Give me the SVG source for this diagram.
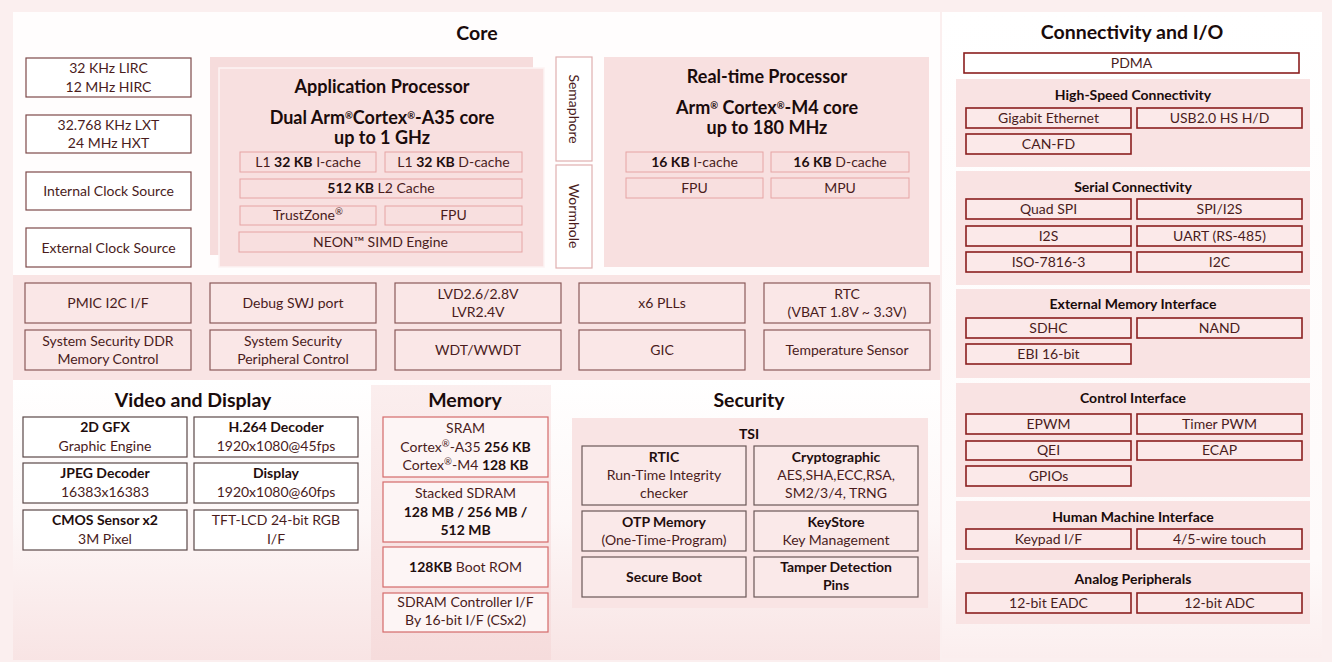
<svg xmlns="http://www.w3.org/2000/svg" width="1332" height="662" viewBox="0 0 1332 662">
<defs>
<linearGradient id="lowG" x1="0" y1="0" x2="0" y2="1">
<stop offset="0" stop-color="#ffffff"/><stop offset="0.5" stop-color="#fdf7f7"/><stop offset="1" stop-color="#f8e4e4"/>
</linearGradient>
<linearGradient id="memG" x1="0" y1="0" x2="0" y2="1">
<stop offset="0" stop-color="#fbeeee"/><stop offset="1" stop-color="#f6dcdc"/>
</linearGradient>
<linearGradient id="conG" x1="0" y1="0" x2="0" y2="1">
<stop offset="0" stop-color="#ffffff"/><stop offset="0.85" stop-color="#fefafa"/><stop offset="1" stop-color="#fbeeee"/>
</linearGradient>
<style>
text{font-family:Lato,"Liberation Sans",sans-serif;}
.h1{font-size:19.5px;font-weight:bold;fill:#1a0b0b;text-anchor:middle}
.h2{font-size:18px;font-weight:bold;fill:#1a0b0b;text-anchor:middle}
.h3{font-size:14px;font-weight:bold;fill:#1a0b0b;text-anchor:middle}
.b{font-size:14px;fill:#4a1c1c;text-anchor:middle}
.bb{font-weight:bold;fill:#1f0e0e}
.sup{font-size:9.5px}
.clk{fill:#fff;stroke:#7e4a4a;stroke-width:1.2}
.ap{fill:#f8dfdf;stroke:#e6a4a4;stroke-width:1}
.sem{fill:#fff;stroke:#e0b0b0;stroke-width:1.2}
.bnd{fill:#fae7e7;stroke:#8a5a5a;stroke-width:1.2}
.vid{fill:#fff;stroke:#5a4848;stroke-width:1.2}
.mem{fill:#fdf5f5;stroke:#d46a6a;stroke-width:1.2}
.sec{fill:#fae9e9;stroke:#6a5858;stroke-width:1.2}
.con{fill:#fbe9e9;stroke:#8b1f1f;stroke-width:1.6}
.pnl{fill:#f9e3e3}
</style>
</defs>

<!-- background -->
<rect x="0" y="0" width="1332" height="662" fill="#fbefef"/>
<rect x="13" y="12" width="927" height="263" fill="#fffdfd"/>
<rect x="13" y="275" width="927" height="105" fill="#f9e4e4"/>
<rect x="13" y="380" width="927" height="280" fill="url(#lowG)"/>
<rect x="371" y="385" width="180" height="275" fill="url(#memG)"/>
<rect x="942" y="12" width="380" height="646" fill="url(#conG)"/>

<!-- section titles -->
<g id="titles">
<text class="h1" x="477" y="40">Core</text>
<text class="h1" x="193" y="407">Video and Display</text>
<text class="h1" x="465" y="407">Memory</text>
<text class="h1" x="749" y="407">Security</text>
<text class="h1" x="1132" y="39">Connectivity and I/O</text>
</g>

<!-- clock sources -->
<g id="lirc"><rect class="clk" x="26" y="58" width="165" height="39"/>
<text class="b" x="108.5" y="73">32 KHz LIRC</text><text class="b" x="108.5" y="92">12 MHz HIRC</text></g>
<g id="lxt"><rect class="clk" x="26" y="115" width="165" height="38"/>
<text class="b" x="108.5" y="130">32.768 KHz LXT</text><text class="b" x="108.5" y="148">24 MHz HXT</text></g>
<g id="intclk"><rect class="clk" x="26" y="172" width="165" height="38"/>
<text class="b" x="108.5" y="196">Internal Clock Source</text></g>
<g id="extclk"><rect class="clk" x="26" y="228" width="165" height="39"/>
<text class="b" x="108.5" y="253">External Clock Source</text></g>

<!-- application processor -->
<g id="app">
<rect x="210" y="57" width="323" height="198" fill="#f6dcdc"/>
<rect x="219" y="68" width="325" height="199" fill="#f8e0e0" stroke="#fdf3f3" stroke-width="1.5"/>
<text class="h2" x="382" y="93">Application Processor</text>
<text class="h2" x="382" y="124">Dual Arm<tspan class="sup" baseline-shift="super">®</tspan>Cortex<tspan class="sup" baseline-shift="super">®</tspan>-A35 core</text>
<text class="h2" x="382" y="144">up to 1 GHz</text>
<rect class="ap" x="240" y="152" width="136" height="20"/>
<text class="b" x="308" y="167">L1 <tspan class="bb">32 KB</tspan> I-cache</text>
<rect class="ap" x="385" y="152" width="137" height="20"/>
<text class="b" x="453.5" y="167">L1 <tspan class="bb">32 KB</tspan> D-cache</text>
<rect class="ap" x="240" y="179" width="282" height="19"/>
<text class="b" x="381" y="193"><tspan class="bb">512 KB</tspan> L2 Cache</text>
<rect class="ap" x="240" y="206" width="136" height="19"/>
<text class="b" x="308" y="220">TrustZone<tspan class="sup" baseline-shift="super">®</tspan></text>
<rect class="ap" x="385" y="206" width="137" height="19"/>
<text class="b" x="453.5" y="220">FPU</text>
<rect class="ap" x="239" y="232" width="283" height="20"/>
<text class="b" x="380.5" y="247">NEON™ SIMD Engine</text>
</g>

<g id="semaphore"><rect class="sem" x="556" y="57" width="36" height="104"/>
<text class="b" transform="translate(569,109) rotate(90)" x="0" y="0">Semaphore</text></g>
<g id="wormhole"><rect class="sem" x="556" y="165" width="36" height="103"/>
<text class="b" transform="translate(569,216) rotate(90)" x="0" y="0">Wormhole</text></g>

<!-- real-time processor -->
<g id="rtp">
<rect x="604" y="57" width="325" height="210" fill="#f8e0e0"/>
<text class="h2" x="767" y="83">Real-time Processor</text>
<text class="h2" x="767" y="114">Arm<tspan class="sup" baseline-shift="super">®</tspan> Cortex<tspan class="sup" baseline-shift="super">®</tspan>-M4 core</text>
<text class="h2" x="767" y="134">up to 180 MHz</text>
<rect class="ap" x="626" y="152" width="137" height="20"/>
<text class="b" x="694.5" y="167"><tspan class="bb">16 KB</tspan> I-cache</text>
<rect class="ap" x="771" y="152" width="138" height="20"/>
<text class="b" x="840" y="167"><tspan class="bb">16 KB</tspan> D-cache</text>
<rect class="ap" x="626" y="178" width="137" height="20"/>
<text class="b" x="694.5" y="193">FPU</text>
<rect class="ap" x="771" y="178" width="138" height="20"/>
<text class="b" x="840" y="193">MPU</text>
</g>

<!-- system band -->
<g id="pmic"><rect class="bnd" x="25" y="283" width="166" height="40"/><text class="b" x="108" y="308">PMIC I2C I/F</text></g>
<g id="debug"><rect class="bnd" x="210" y="283" width="166" height="40"/><text class="b" x="293" y="308">Debug SWJ port</text></g>
<g id="lvd"><rect class="bnd" x="395" y="283" width="166" height="40"/><text class="b" x="478" y="299">LVD2.6/2.8V</text><text class="b" x="478" y="317">LVR2.4V</text></g>
<g id="pll"><rect class="bnd" x="579" y="283" width="166" height="40"/><text class="b" x="662" y="308">x6 PLLs</text></g>
<g id="rtc"><rect class="bnd" x="764" y="283" width="166" height="40"/><text class="b" x="847" y="299">RTC</text><text class="b" x="847" y="317">(VBAT 1.8V ~ 3.3V)</text></g>
<g id="ssddr"><rect class="bnd" x="25" y="330" width="166" height="40"/><text class="b" x="108" y="346">System Security DDR</text><text class="b" x="108" y="364">Memory Control</text></g>
<g id="ssper"><rect class="bnd" x="210" y="330" width="166" height="40"/><text class="b" x="293" y="346">System Security</text><text class="b" x="293" y="364">Peripheral Control</text></g>
<g id="wdt"><rect class="bnd" x="395" y="330" width="166" height="40"/><text class="b" x="478" y="355">WDT/WWDT</text></g>
<g id="gic"><rect class="bnd" x="579" y="330" width="166" height="40"/><text class="b" x="662" y="355">GIC</text></g>
<g id="temp"><rect class="bnd" x="764" y="330" width="166" height="40"/><text class="b" x="847" y="355">Temperature Sensor</text></g>

<!-- video and display -->
<g id="gfx"><rect class="vid" x="23" y="417" width="164" height="40"/><text class="b" x="105" y="432"><tspan class="bb">2D GFX</tspan></text><text class="b" x="105" y="451">Graphic Engine</text></g>
<g id="h264"><rect class="vid" x="194" y="417" width="164" height="40"/><text class="b" x="276" y="432"><tspan class="bb">H.264 Decoder</tspan></text><text class="b" x="276" y="451">1920x1080@45fps</text></g>
<g id="jpeg"><rect class="vid" x="23" y="463" width="164" height="40"/><text class="b" x="105" y="478"><tspan class="bb">JPEG Decoder</tspan></text><text class="b" x="105" y="497">16383x16383</text></g>
<g id="display"><rect class="vid" x="194" y="463" width="164" height="40"/><text class="b" x="276" y="478"><tspan class="bb">Display</tspan></text><text class="b" x="276" y="497">1920x1080@60fps</text></g>
<g id="cmos"><rect class="vid" x="23" y="510" width="164" height="40"/><text class="b" x="105" y="525"><tspan class="bb">CMOS Sensor x2</tspan></text><text class="b" x="105" y="544">3M Pixel</text></g>
<g id="tft"><rect class="vid" x="194" y="510" width="164" height="40"/><text class="b" x="276" y="525">TFT-LCD 24-bit RGB</text><text class="b" x="276" y="544">I/F</text></g>

<!-- memory -->
<g id="sram"><rect class="mem" x="383" y="417" width="165" height="60"/>
<text class="b" x="465.5" y="433">SRAM</text>
<text class="b" x="465.5" y="452">Cortex<tspan class="sup" baseline-shift="super">®</tspan>-A35 <tspan class="bb">256 KB</tspan></text>
<text class="b" x="465.5" y="470">Cortex<tspan class="sup" baseline-shift="super">®</tspan>-M4  <tspan class="bb">128 KB</tspan></text></g>
<g id="sdram"><rect class="mem" x="383" y="482" width="165" height="60"/>
<text class="b" x="465.5" y="498">Stacked  SDRAM</text>
<text class="b" x="465.5" y="517"><tspan class="bb">128 MB / 256 MB /</tspan></text>
<text class="b" x="465.5" y="535"><tspan class="bb">512 MB</tspan></text></g>
<g id="bootrom"><rect class="mem" x="383" y="547" width="165" height="40"/>
<text class="b" x="465.5" y="572"><tspan class="bb">128KB</tspan> Boot ROM</text></g>
<g id="sdramctl"><rect class="mem" x="383" y="593" width="165" height="39"/>
<text class="b" x="465.5" y="607">SDRAM Controller I/F</text>
<text class="b" x="465.5" y="625">By 16-bit I/F (CSx2)</text></g>

<!-- security -->
<g id="tsi">
<rect x="572" y="418" width="356" height="190" fill="#f9e4e4"/>
<text class="h3" x="749" y="439">TSI</text>
</g>
<g id="rtic"><rect class="sec" x="582" y="446" width="164" height="59"/>
<text class="b" x="664" y="462"><tspan class="bb">RTIC</tspan></text>
<text class="b" x="664" y="480">Run-Time Integrity</text>
<text class="b" x="664" y="498">checker</text></g>
<g id="crypto"><rect class="sec" x="754" y="446" width="164" height="59"/>
<text class="b" x="836" y="462"><tspan class="bb">Cryptographic</tspan></text>
<text class="b" x="836" y="480">AES,SHA,ECC,RSA,</text>
<text class="b" x="836" y="498">SM2/3/4, TRNG</text></g>
<g id="otp"><rect class="sec" x="582" y="511" width="164" height="40"/>
<text class="b" x="664" y="527"><tspan class="bb">OTP Memory</tspan></text>
<text class="b" x="664" y="545">(One-Time-Program)</text></g>
<g id="keystore"><rect class="sec" x="754" y="511" width="164" height="40"/>
<text class="b" x="836" y="527"><tspan class="bb">KeyStore</tspan></text>
<text class="b" x="836" y="545">Key Management</text></g>
<g id="secboot"><rect class="sec" x="582" y="557" width="164" height="40"/>
<text class="b" x="664" y="582"><tspan class="bb">Secure Boot</tspan></text></g>
<g id="tamper"><rect class="sec" x="754" y="557" width="164" height="40"/>
<text class="b" x="836" y="572"><tspan class="bb">Tamper Detection</tspan></text>
<text class="b" x="836" y="590"><tspan class="bb">Pins</tspan></text></g>

<!-- connectivity -->
<g id="pdma"><rect x="964" y="53" width="335" height="20" fill="#fff" stroke="#8b1f1f" stroke-width="1.6"/>
<text class="b" x="1131.5" y="68">PDMA</text></g>

<g id="highspeed">
<rect class="pnl" x="956" y="79" width="354" height="88"/>
<text class="h3" x="1133" y="100">High-Speed Connectivity</text>
<rect class="con" x="966" y="108" width="165" height="20"/><text class="b" x="1048.5" y="123">Gigabit Ethernet</text>
<rect class="con" x="1137" y="108" width="165" height="20"/><text class="b" x="1219.5" y="123">USB2.0 HS H/D</text>
<rect class="con" x="966" y="134" width="165" height="20"/><text class="b" x="1048.5" y="149">CAN-FD</text>
</g>

<g id="serial">
<rect class="pnl" x="956" y="171" width="354" height="114"/>
<text class="h3" x="1133" y="192">Serial Connectivity</text>
<rect class="con" x="966" y="199" width="165" height="20"/><text class="b" x="1048.5" y="214">Quad SPI</text>
<rect class="con" x="1137" y="199" width="165" height="20"/><text class="b" x="1219.5" y="214">SPI/I2S</text>
<rect class="con" x="966" y="226" width="165" height="20"/><text class="b" x="1048.5" y="241">I2S</text>
<rect class="con" x="1137" y="226" width="165" height="20"/><text class="b" x="1219.5" y="241">UART (RS-485)</text>
<rect class="con" x="966" y="252" width="165" height="20"/><text class="b" x="1048.5" y="267">ISO-7816-3</text>
<rect class="con" x="1137" y="252" width="165" height="20"/><text class="b" x="1219.5" y="267">I2C</text>
</g>

<g id="extmem">
<rect class="pnl" x="956" y="289" width="354" height="89"/>
<text class="h3" x="1133" y="309">External Memory Interface</text>
<rect class="con" x="966" y="318" width="165" height="20"/><text class="b" x="1048.5" y="333">SDHC</text>
<rect class="con" x="1137" y="318" width="165" height="20"/><text class="b" x="1219.5" y="333">NAND</text>
<rect class="con" x="966" y="344" width="165" height="20"/><text class="b" x="1048.5" y="359">EBI 16-bit</text>
</g>

<g id="control">
<rect class="pnl" x="956" y="383" width="354" height="114"/>
<text class="h3" x="1133" y="403">Control Interface</text>
<rect class="con" x="966" y="414" width="165" height="20"/><text class="b" x="1048.5" y="429">EPWM</text>
<rect class="con" x="1137" y="414" width="165" height="20"/><text class="b" x="1219.5" y="429">Timer PWM</text>
<rect class="con" x="966" y="441" width="165" height="19"/><text class="b" x="1048.5" y="455">QEI</text>
<rect class="con" x="1137" y="441" width="165" height="19"/><text class="b" x="1219.5" y="455">ECAP</text>
<rect class="con" x="966" y="466" width="165" height="20"/><text class="b" x="1048.5" y="481">GPIOs</text>
</g>

<g id="hmi">
<rect class="pnl" x="956" y="501" width="354" height="59"/>
<text class="h3" x="1133" y="522">Human Machine Interface</text>
<rect class="con" x="966" y="529" width="165" height="20"/><text class="b" x="1048.5" y="544">Keypad I/F</text>
<rect class="con" x="1137" y="529" width="165" height="20"/><text class="b" x="1219.5" y="544">4/5-wire touch</text>
</g>

<g id="analog">
<rect class="pnl" x="956" y="563" width="354" height="61"/>
<text class="h3" x="1133" y="584">Analog Peripherals</text>
<rect class="con" x="966" y="593" width="165" height="20"/><text class="b" x="1048.5" y="608">12-bit EADC</text>
<rect class="con" x="1137" y="593" width="165" height="20"/><text class="b" x="1219.5" y="608">12-bit ADC</text>
</g>

<g id="connectors"></g>
</svg>
